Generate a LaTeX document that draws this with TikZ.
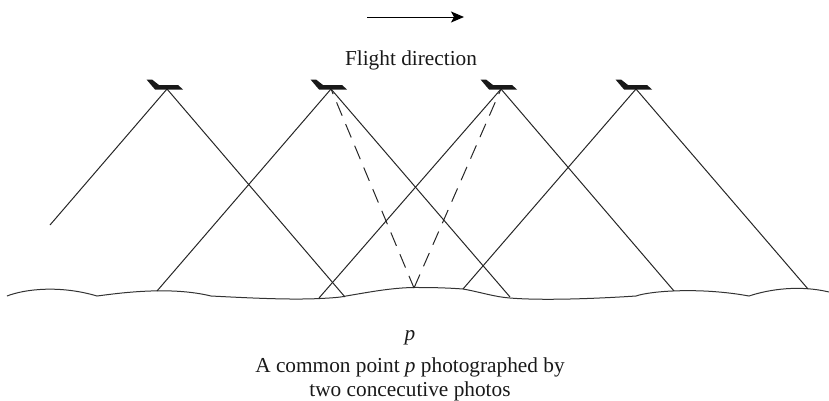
\documentclass[tikz,border=0pt]{standalone}
\usepackage{fontspec}
\setmainfont{Liberation Serif}
\usetikzlibrary{arrows.meta,calc}
\tikzset{
  ray/.style={line width=1pt,color=black!85},
  sight/.style={line width=1pt,color=black!85,dash pattern=on 14.5pt off 9pt,dash phase=9pt},
  ground/.style={line width=1pt,color=black!80},
  lbl/.style={font=\fontsize{21.3pt}{24.5pt}\selectfont,inner sep=0pt,align=center,color=black!90},
  plane/.style={fill=black!90,draw=none}
}
\newcommand{\planeat}[1]{\fill[plane] ($(#1)+(-20.5,-9.5)$) -- ($(#1)+(-15,-9.5)$) -- ($(#1)+(-8,-4)$) -- ($(#1)+(11,-4)$) -- ($(#1)+(16,0.5)$) -- ($(#1)+(-12,0.5)$) -- cycle;}
\begin{document}
\begin{tikzpicture}[x=1pt,y=-1pt]
\useasboundingbox (0,0) rectangle (829,400);
\coordinate (p1) at (167,89);
\coordinate (p2) at (331,89);
\coordinate (p3) at (501,89);
\coordinate (p4) at (636,89);
\coordinate (a1) at (50,225);
\coordinate (b1) at (345,297);
\coordinate (a2) at (157,291);
\coordinate (b2) at (510,297);
\coordinate (a3) at (319,298);
\coordinate (b3) at (674,291);
\coordinate (a4) at (463,289);
\coordinate (b4) at (808,289);
\coordinate (pt) at (414,288);
\coordinate (g0) at (7,296);
\draw[ground] (g0) .. controls (25,289) and (60,285) .. (97,296)
  .. controls (120,293) and (170,286) .. (211,296)
  .. controls (250,298) and (290,300) .. (320,298.5)
  .. controls (330,298) and (340,297.5) .. (346,296)
  .. controls (370,292) and (395,287) .. (420,287.5)
  .. controls (435,287.5) and (450,288) .. (463,289)
  .. controls (480,292) and (495,297) .. (510,298)
  .. controls (540,300.5) and (590,299) .. (636,296)
  .. controls (650,291) and (700,287) .. (749,296)
  .. controls (770,289) and (800,285) .. (829,292);
\foreach \p/\a/\b in {p1/a1/b1,p2/a2/b2,p3/a3/b3,p4/a4/b4}{
  \draw[ray] (\a) -- (\p) -- (\b);
  \planeat{\p}
}
\draw[sight] (p2) -- (pt);
\draw[sight] (p3) -- (pt);
\coordinate (arL) at (367,17);
\coordinate (arR) at (464,17);
\draw[line width=1pt,-{Stealth[length=13pt,width=11pt,inset=3pt]}] (arL) -- (arR);
\node[lbl] (t1) at (411,60) {Flight direction};
\node[lbl] (t2) at (410,337.5) {\itshape p};
\node[lbl] (t3) at (410,379.5) {A common point \textit{p} photographed by\\two concecutive photos};
\end{tikzpicture}
\end{document}
